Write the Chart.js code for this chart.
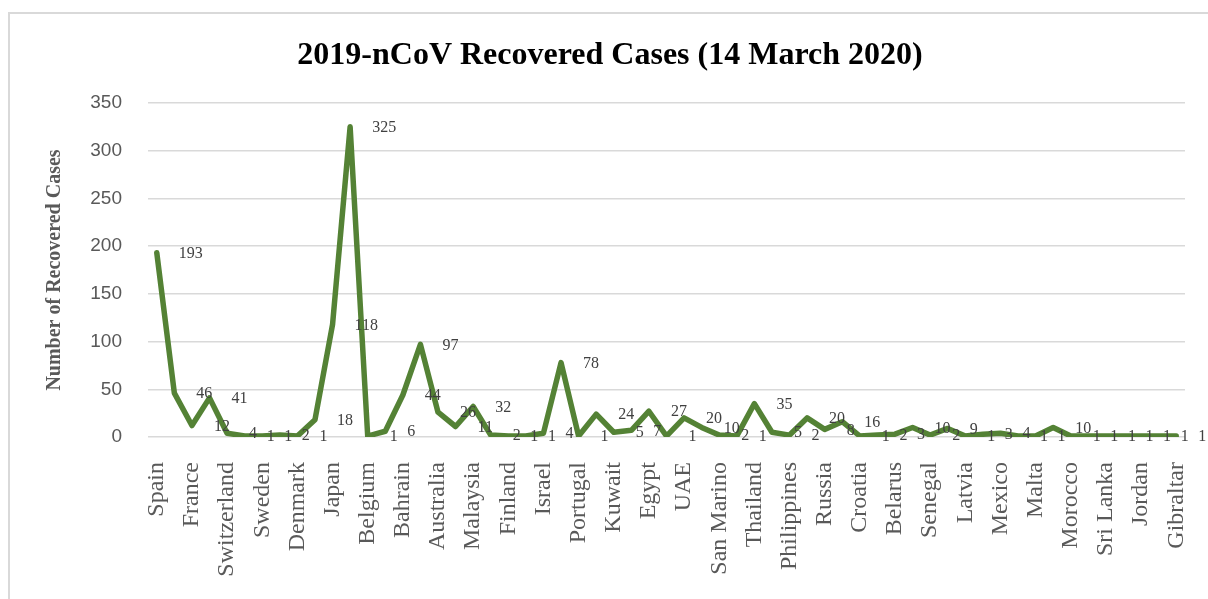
<!DOCTYPE html>
<html>
<head>
<meta charset="utf-8">
<title>2019-nCoV Recovered Cases</title>
<script src="https://cdn.jsdelivr.net/npm/chart.js@4"></script>
<style>
  html, body { margin: 0; padding: 0; background: #fff; }
  .frame { position: absolute; left: 8px; top: 12px; width: 1220px; height: 620px; border: 2px solid #d9d9d9; box-sizing: border-box; }
  .chart-box { position: absolute; left: 0; top: 0; width: 1208px; height: 599px; }
</style>
</head>
<body>
<div class="frame"></div>
<div class="chart-box"><canvas id="recovered"></canvas></div>
<script>
// only every other country name is printed on the axis
const countries = [
  'Spain', '', 'France', '', 'Switzerland', '', 'Sweden', '', 'Denmark', '',
  'Japan', '', 'Belgium', '', 'Bahrain', '', 'Australia', '', 'Malaysia', '',
  'Finland', '', 'Israel', '', 'Portugal', '', 'Kuwait', '', 'Egypt', '',
  'UAE', '', 'San Marino', '', 'Thailand', '', 'Philippines', '', 'Russia', '',
  'Croatia', '', 'Belarus', '', 'Senegal', '', 'Latvia', '', 'Mexico', '',
  'Malta', '', 'Morocco', '', 'Sri Lanka', '', 'Jordan', '', 'Gibraltar'
];
const recovered = [
  193, 46, 12, 41, 4, 1, 1, 2, 1, 18,
  118, 325, 1, 6, 44, 97, 26, 11, 32, 2,
  1, 1, 4, 78, 1, 24, 5, 7, 27, 1,
  20, 10, 2, 1, 35, 5, 2, 20, 8, 16,
  1, 2, 3, 10, 2, 9, 1, 3, 4, 1,
  1, 10, 1, 1, 1, 1, 1, 1, 1
];
const yMax = 350;
const yStep = 50;

// value labels sit just to the right of each point
const valueLabels = {
  id: 'valueLabels',
  afterDatasetsDraw(chart) {
    const { ctx } = chart;
    const meta = chart.getDatasetMeta(0);
    ctx.save();
    ctx.font = '16px "Liberation Serif", serif';
    ctx.fillStyle = '#404040';
    ctx.textAlign = 'left';
    ctx.textBaseline = 'middle';
    meta.data.forEach((pt, i) => {
      ctx.fillText(String(recovered[i]), pt.x + 22, pt.y + 1);
    });
    ctx.restore();
  }
};

new Chart(document.getElementById('recovered'), {
  type: 'line',
  data: {
    labels: countries,
    datasets: [{
      data: recovered,
      borderColor: '#548235',
      borderWidth: 5.5,
      borderJoinStyle: 'round',
      borderCapStyle: 'round',
      pointRadius: 0,
      tension: 0,
      fill: false
    }]
  },
  options: {
    responsive: true,
    maintainAspectRatio: false,
    animation: false,
    layout: { padding: { top: 0, right: 0, bottom: 0, left: 12 } },
    plugins: {
      legend: { display: false },
      tooltip: { enabled: false },
      title: {
        display: true,
        text: '2019-nCoV Recovered Cases (14 March 2020)',
        color: '#000',
        font: { family: '"Liberation Serif", serif', size: 32, weight: 'bold', lineHeight: 1.2 },
        padding: { top: 37, bottom: 27.6 }
      }
    },
    scales: {
      x: {
        offset: true,
        grid: { display: false, drawTicks: false },
        border: { display: false },
        ticks: {
          autoSkip: false,
          minRotation: 90,
          maxRotation: 90,
          padding: 25,
          color: '#595959',
          font: { family: '"Liberation Serif", serif', size: 24 }
        },
        afterFit(scale) {
          scale.height = 162;
          scale.paddingLeft = 0;
          scale.paddingRight = 23;
        }
      },
      y: {
        min: 0,
        max: yMax,
        grid: { color: '#d9d9d9', lineWidth: 1.5, drawTicks: false },
        border: { display: false },
        ticks: {
          stepSize: yStep,
          padding: 26,
          color: '#595959',
          font: { family: '"Liberation Sans", sans-serif', size: 19 }
        },
        title: {
          display: true,
          text: 'Number of Recovered Cases',
          color: '#595959',
          font: { family: '"Liberation Serif", serif', size: 20, weight: 'bold' },
          padding: { top: 31, bottom: 0 }
        },
        afterFit(scale) { scale.width = 136; }
      }
    }
  },
  plugins: [valueLabels]
});
</script>
</body>
</html>
